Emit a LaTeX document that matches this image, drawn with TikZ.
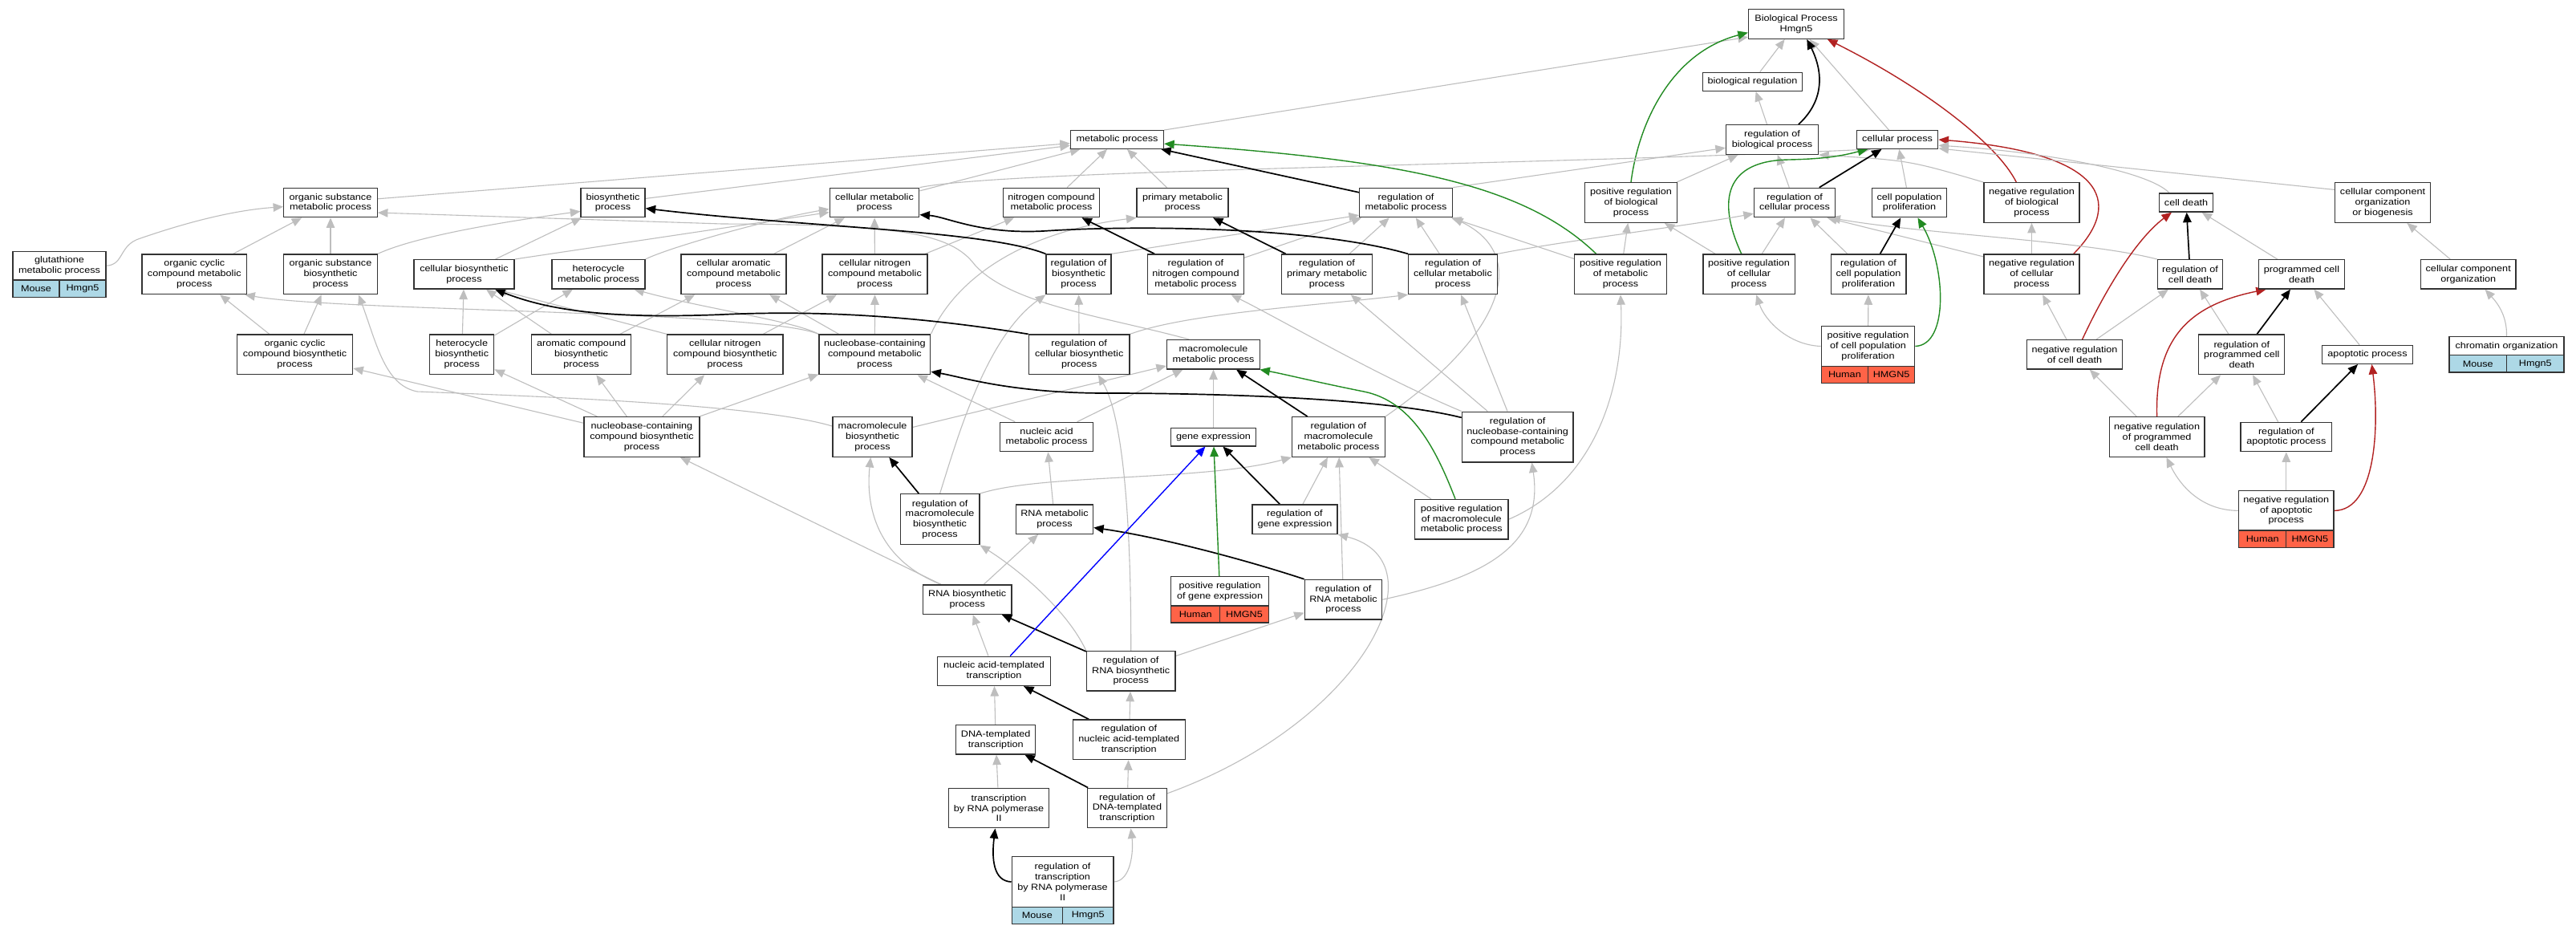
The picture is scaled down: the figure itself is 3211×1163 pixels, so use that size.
\documentclass[tikz,border=0pt]{standalone}
\usepackage{fontspec}
\setmainfont{Liberation Sans}[FakeStretch=1.15]
\usetikzlibrary{arrows.meta}
\pgfdeclarelayer{bg}
\pgfdeclarelayer{paper}
\pgfsetlayers{paper,bg,main}
\definecolor{isagray}{HTML}{BEBEBE}
\definecolor{pgreen}{HTML}{228B22}
\definecolor{nred}{HTML}{B22222}
\definecolor{pblue}{HTML}{0000FF}
\definecolor{mouseblue}{HTML}{ADD8E6}
\definecolor{humanred}{HTML}{FF6347}
\newcommand{\gofont}{\fontsize{11}{12.7}\selectfont}
\newcommand{\gon}[6]{\node[gobox,minimum width=#4pt,minimum height=#5pt] (#1) at (#2,#3) {#6};}
\newcommand{\gorow}[8]{%
 \node[gobox,fill=#6,minimum width={#4pt/2},minimum height=#5pt] (#1a) at ({#2-#4/4},{#3+#5/2}) {#7};
 \node[gobox,fill=#6,minimum width={#4pt/2},minimum height=#5pt] (#1b) at ({#2+#4/4},{#3+#5/2}) {#8};}
\tikzset{
 gobox/.style={draw=black!80,line width=1.3pt,fill=white,rectangle,inner sep=0pt,align=center,font=\gofont},
 tip/.style={-{Triangle[length=12.5pt,width=10.5pt]}},
 isa/.style={draw=isagray,line width=1.1pt,tip},
 reg/.style={draw=black,line width=1.7pt,tip},
 preg/.style={draw=pgreen,line width=1.4pt,tip},
 nreg/.style={draw=nred,line width=1.4pt,tip},
 partof/.style={draw=pblue,line width=1.4pt,tip}
}
\begin{document}
\begin{tikzpicture}[x=1pt,y=-1pt]
\begin{pgfonlayer}{paper}
\fill[white] (0,0) rectangle (3211,1163);
\end{pgfonlayer}
\useasboundingbox (0,0) rectangle (3211,1163);
% rank 0-2
\gon{Root}{2239}{30}{119}{36.6}{Biological Process\\Hmgn5}
\gon{BR}{2184.5}{101.8}{124}{23}{biological regulation}
\gon{MP}{1392.5}{174}{116}{22.6}{metabolic process}
\gon{RegBioP}{2209}{174}{115}{36.6}{regulation of\\biological process}
\gon{CP}{2365}{174}{101.6}{22.6}{cellular process}
% rank 3
\gon{OSMP}{412}{252.5}{116.5}{36.4}{organic substance\\metabolic process}
\gon{BP}{764}{252.5}{80}{36.4}{biosynthetic\\process}
\gon{CMP}{1090}{252.5}{111.5}{36.4}{cellular metabolic\\process}
\gon{NCMP}{1310.5}{252.5}{120.4}{36.4}{nitrogen compound\\metabolic process}
\gon{PMP}{1474}{252.5}{113.8}{36.4}{primary metabolic\\process}
\gon{RegMP}{1752.5}{252.5}{115.7}{36.4}{regulation of\\metabolic process}
\gon{PRBP}{2033}{252.5}{114.7}{49.6}{positive regulation\\of biological\\process}
\gon{RegCP}{2237}{252.5}{101.2}{36.4}{regulation of\\cellular process}
\gon{CPP}{2380}{252.5}{93.2}{36.4}{cell population\\proliferation}
\gon{NRBP}{2532.5}{252.5}{119}{49.6}{negative regulation\\of biological\\process}
\gon{CD}{2725}{252.5}{66.7}{23}{cell death}
\gon{CCOB}{2970}{252.5}{118.8}{49.6}{cellular component\\organization\\or biogenesis}
% rank 4
\gon{GLUT}{74}{331.2}{116}{35.7}{glutathione\\metabolic process}
\gorow{GLUT}{74}{349}{116}{21.7}{mouseblue}{Mouse}{Hmgn5}
\gon{OCCMP}{242.3}{341.8}{130.6}{49.6}{organic cyclic\\compound metabolic\\process}
\gon{OSBP}{412}{341.8}{116.5}{49.6}{organic substance\\biosynthetic\\process}
\gon{CBP}{578.5}{341.8}{125}{36.3}{cellular biosynthetic\\process}
\gon{HMP}{746}{341.8}{116}{36.3}{heterocycle\\metabolic process}
\gon{CACMP}{914.5}{341.8}{131}{49.6}{cellular aromatic\\compound metabolic\\process}
\gon{CNCMP}{1090.5}{341.8}{131}{49.6}{cellular nitrogen\\compound metabolic\\process}
\gon{RegBP}{1344.5}{341.8}{81}{49.6}{regulation of\\biosynthetic\\process}
\gon{RegNCMP}{1490.4}{341.8}{119.8}{49.6}{regulation of\\nitrogen compound\\metabolic process}
\gon{RegPMP}{1654}{341.8}{113.5}{49.6}{regulation of\\primary metabolic\\process}
\gon{RegCMP}{1811}{341.8}{110.6}{49.6}{regulation of\\cellular metabolic\\process}
\gon{PRMP}{2020}{341.8}{114.7}{49.6}{positive regulation\\of metabolic\\process}
\gon{PRCP}{2180}{341.8}{114.3}{49.6}{positive regulation\\of cellular\\process}
\gon{RegCPP}{2329}{341.8}{93.7}{49.6}{regulation of\\cell population\\proliferation}
\gon{NRCP}{2532.5}{341.8}{119}{49.6}{negative regulation\\of cellular\\process}
\gon{RegCD}{2730}{341.8}{81.2}{36.3}{regulation of\\cell death}
\gon{PCD}{2869}{341.8}{106.6}{36.3}{programmed cell\\death}
\gon{CCO}{3076.7}{341.8}{118.8}{36.3}{cellular component\\organization}
% rank 5
\gon{OCCBP}{367.6}{441.8}{144.2}{49.6}{organic cyclic\\compound biosynthetic\\process}
\gon{HBP}{575.7}{441.8}{80}{49.6}{heterocycle\\biosynthetic\\process}
\gon{ACBP}{724.6}{441.8}{124}{49.6}{aromatic compound\\biosynthetic\\process}
\gon{CNCBP}{903.8}{441.8}{144.2}{49.6}{cellular nitrogen\\compound biosynthetic\\process}
\gon{NCCMP}{1090.4}{441.8}{138.8}{49.6}{nucleobase-containing\\compound metabolic\\process}
\gon{RegCBP}{1345.2}{441.8}{125.7}{49.6}{regulation of\\cellular biosynthetic\\process}
\gon{MMP}{1512.5}{441.8}{116}{36.3}{macromolecule\\metabolic process}
\gon{PRCPP}{2328.5}{431.5}{116.4}{49.6}{positive regulation\\of cell population\\proliferation}
\gorow{PRCPP}{2328.5}{456.3}{116.4}{21.5}{humanred}{Human}{HMGN5}
\gon{NRCD}{2586}{441.8}{118.6}{36.3}{negative regulation\\of cell death}
\gon{RegPCD}{2794.3}{441.8}{107}{49.6}{regulation of\\programmed cell\\death}
\gon{AP}{2951}{441.8}{113.3}{23}{apoptotic process}
\gon{ChrO}{3124.5}{431.2}{143}{23}{chromatin organization}
\gorow{ChrO}{3124.5}{442.7}{143}{21.3}{mouseblue}{Mouse}{Hmgn5}
% rank 6
\gon{NCCBP}{800}{544.5}{144}{49.6}{nucleobase-containing\\compound biosynthetic\\process}
\gon{MBP}{1087.5}{544.5}{99}{49.6}{macromolecule\\biosynthetic\\process}
\gon{NAMP}{1304.5}{544.5}{116}{36.4}{nucleic acid\\metabolic process}
\gon{GE}{1512.5}{544.5}{105.4}{22.7}{gene expression}
\gon{RegMMP}{1668.4}{544.5}{115.8}{49.6}{regulation of\\macromolecule\\metabolic process}
\gon{RegNCCMP}{1891.7}{544.5}{138.7}{62.7}{regulation of\\nucleobase-containing\\compound metabolic\\process}
\gon{NRPCD}{2688.6}{544.5}{118.8}{49.6}{negative regulation\\of programmed\\cell death}
\gon{RegAP}{2849.8}{544.5}{113.8}{36.4}{regulation of\\apoptotic process}
% rank 7
\gon{RegMBP}{1171.6}{647.2}{98.7}{63}{regulation of\\macromolecule\\biosynthetic\\process}
\gon{RNAMP}{1314.5}{647.2}{96}{36.3}{RNA metabolic\\process}
\gon{RegGE}{1613.9}{647.2}{106}{36.3}{regulation of\\gene expression}
\gon{PRMMP}{1821.8}{647.2}{116.3}{49.6}{positive regulation\\of macromolecule\\metabolic process}
\gon{NRAP}{2849.8}{636.4}{118.4}{49.4}{negative regulation\\of apoptotic\\process}
\gorow{NRAP}{2849.8}{661.1}{118.4}{21.6}{humanred}{Human}{HMGN5}
% rank 8
\gon{PRGE}{1520.6}{736.9}{121.7}{36.3}{positive regulation\\of gene expression}
\gorow{PRGE}{1520.6}{755}{121.7}{21}{humanred}{Human}{HMGN5}
\gon{RegRNAMP}{1674.5}{747.2}{96.4}{49.6}{regulation of\\RNA metabolic\\process}
\gon{RNABP}{1205.7}{747.2}{110.6}{36.3}{RNA biosynthetic\\process}
% rank 9-12
\gon{NATT}{1239}{836.3}{140.4}{36.3}{nucleic acid-templated\\transcription}
\gon{RegRNABP}{1409.7}{836.3}{110.5}{49.6}{regulation of\\RNA biosynthetic\\process}
\gon{DTT}{1241.2}{921.8}{98.8}{36.3}{DNA-templated\\transcription}
\gon{RegNATT}{1407.3}{921.8}{140}{49.6}{regulation of\\nucleic acid-templated\\transcription}
\gon{TRP2}{1245}{1007}{125.5}{49.6}{transcription\\by RNA polymerase\\II}
\gon{RegDTT}{1405}{1007}{98.8}{49.6}{regulation of\\DNA-templated\\transcription}
\gon{RegTRP2}{1324.5}{1099}{126.7}{62.6}{regulation of\\transcription\\by RNA polymerase\\II}
\gorow{RegTRP2}{1324.5}{1130.3}{126.7}{21.4}{mouseblue}{Mouse}{Hmgn5}

\begin{pgfonlayer}{bg}
% top
\draw[isa] (BR) -- (Root);
\draw[isa] (CP) -- (Root);
\draw[isa] (MP.north east) -- (Root.-165);
\draw[reg] (RegBioP.30) .. controls (2280,120) and (2268,80) .. (Root.-55);
\draw[preg] (PRBP.north) .. controls (2043,150) and (2085,65) .. (Root.-170);
\draw[nreg] (NRBP.127) .. controls (2490,180) and (2400,110) .. (Root.-26);
\draw[isa] (RegBioP) -- (BR);
\draw[isa] (PRBP) -- (RegBioP);
\draw[isa] (NRBP.north west) .. controls (2380,200) .. (RegBioP.south east);
\draw[isa] (RegCP) -- (RegBioP);
\draw[isa] (RegMP.north east) -- (RegBioP.-170);
\draw[isa] (CMP.north east) .. controls (1250,212) and (1900,206) .. (CP.-160);
\draw[reg] (RegCP) -- (CP);
\draw[isa] (CPP) -- (CP);
\draw[preg] (PRCP.110) .. controls (2140,250) and (2150,200) .. (2230,199) .. controls (2280,198) and (2300,193) .. (CP.-162);
\draw[nreg] (NRCP.26) .. controls (2650,250) and (2620,190) .. (CP.east);
\draw[isa] (CD.150) .. controls (2680,215) and (2560,190) .. (CP.-8);
\draw[isa] (CCOB.165) -- (CP.-12);
% right block
\draw[isa] (PRCP) -- (RegCP);
\draw[isa] (PRCP) -- (PRBP);
\draw[isa] (RegCPP) -- (RegCP);
\draw[isa] (NRCP.160) -- (RegCP.-25);
\draw[isa] (RegCMP.north east) .. controls (1950,300) and (2100,282) .. (RegCP.-165);
\draw[isa] (RegCD.north west) .. controls (2600,300) and (2400,292) .. (RegCP.-23);
\draw[reg] (RegCPP) -- (CPP);
\draw[isa] (PRCPP) -- (RegCPP);
\draw[preg] (PRCPP.east) .. controls (2430,430) and (2425,330) .. (CPP.-61);
\draw[isa] (PRCPP.west) .. controls (2230,430) and (2200,400) .. (PRCP.-70);
\draw[isa] (NRCP) -- (NRBP);
\draw[isa] (NRCD) -- (NRCP);
\draw[isa] (NRCD) -- (RegCD);
\draw[nreg] (NRCD.63) .. controls (2620,370) and (2660,300) .. (CD.-146);
\draw[reg] (RegCD) -- (CD);
\draw[isa] (PCD) -- (CD);
\draw[isa] (RegPCD) -- (RegCD);
\draw[reg] (RegPCD) -- (PCD);
\draw[nreg] (NRPCD.north) .. controls (2686,420) and (2730,380) .. (PCD.-157);
\draw[isa] (NRPCD) -- (NRCD);
\draw[isa] (NRPCD) -- (RegPCD);
\draw[isa] (AP) -- (PCD);
\draw[isa] (RegAP) -- (RegPCD);
\draw[reg] (RegAP) -- (AP);
\draw[isa] (NRAP.west) .. controls (2740,636) and (2715,600) .. (NRPCD.-65);
\draw[isa] (NRAP) -- (RegAP);
\draw[nreg] (NRAP.east) .. controls (2962,636) and (2966,530) .. (AP.-66);
\draw[isa] (CCO) -- (CCOB);
\draw[isa] (ChrO.north) .. controls (3125,395) and (3115,380) .. (CCO.-42);
% metabolic
\draw[isa] (OSMP) -- (MP);
\draw[isa] (BP) -- (MP);
\draw[isa] (CMP) -- (MP);
\draw[isa] (NCMP) -- (MP);
\draw[isa] (PMP) -- (MP);
\draw[reg] (RegMP) -- (MP);
\draw[preg] (PRMP.140) .. controls (1900,230) and (1750,200) .. (MP.-5);
\draw[isa] (MMP.148) .. controls (1380,395) and (1260,380) .. (1215,330) .. controls (1185,290) and (1120,280) .. (900,279) -- (OSMP.-12);
\draw[isa] (GLUT.east) .. controls (155,330) and (148,305) .. (175,297) .. controls (230,278) and (290,262) .. (OSMP.-175);
\draw[isa] (OCCMP) -- (OSMP);
\draw[isa] (OSBP) -- (OSMP);
\draw[isa] (OSBP.north east) .. controls (510,298) and (600,280) .. (BP.-165);
\draw[isa] (CBP) -- (BP);
\draw[isa] (CBP.north east) -- (CMP.-168);
\draw[isa] (HMP.north east) .. controls (830,310) and (950,275) .. (CMP.-172);
\draw[isa] (CACMP) -- (CMP);
\draw[isa] (CNCMP) -- (CMP);
\draw[isa] (CNCMP) -- (NCMP);
\draw[isa] (HBP) -- (CBP);
\draw[isa] (HBP) -- (HMP);
\draw[isa] (ACBP) -- (CBP);
\draw[isa] (ACBP) -- (CACMP);
\draw[isa] (CNCBP.north west) -- (CBP.-25);
\draw[isa] (CNCBP) -- (CNCMP);
\draw[isa] (OCCBP) -- (OCCMP);
\draw[isa] (OCCBP) -- (OSBP);
\draw[isa] (NCCMP.north west) .. controls (950,387) and (420,388) .. (OCCMP.-22);
\draw[isa] (NCCMP.north west) .. controls (990,400) and (880,385) .. (HMP.-23);
\draw[isa] (NCCMP) -- (CACMP);
\draw[isa] (NCCMP) -- (CNCMP);
\draw[isa] (NCCMP.north east) .. controls (1190,350) and (1270,290) .. (PMP.south west);
\draw[isa] (NAMP) -- (NCCMP);
\draw[isa] (NAMP) -- (MMP);
\draw[isa] (MBP) -- (MMP);
\draw[isa] (MBP.165) .. controls (950,505) and (700,495) .. (520,488) .. controls (480,480) and (470,430) .. (OSBP.-36);
\draw[isa] (NCCBP) -- (OCCBP);
\draw[isa] (NCCBP) -- (HBP);
\draw[isa] (NCCBP) -- (ACBP);
\draw[isa] (NCCBP) -- (CNCBP);
\draw[isa] (NCCBP) -- (NCCMP);
\draw[isa] (RNABP.150) -- (NCCBP.-28);
\draw[isa] (RNABP.150) .. controls (1100,700) and (1078,640) .. (MBP.-95);
\draw[isa] (RNABP) -- (RNAMP);
\draw[isa] (RNAMP) -- (NAMP);
\draw[isa] (GE) -- (MMP);
\draw[isa] (RegBP.north east) -- (RegMP.-165);
\draw[isa] (RegNCMP) -- (RegMP);
\draw[isa] (RegPMP) -- (RegMP);
\draw[isa] (RegCMP) -- (RegMP);
\draw[isa] (RegMMP.north east) .. controls (1870,420) and (1910,320) .. (RegMP.south east);
\draw[isa] (PRMP) -- (RegMP);
\draw[isa] (RegCBP) -- (RegBP);
\draw[isa] (RegCBP.north east) .. controls (1480,390) and (1650,380) .. (RegCMP.south west);
\draw[isa] (RegMBP.north) .. controls (1195,540) and (1230,420) .. (RegBP.south west);
\draw[isa] (RegMBP.north east) .. controls (1300,590) and (1500,600) .. (RegMMP.south west);
\draw[isa] (RegGE) -- (RegMMP);
\draw[isa] (PRMMP) -- (RegMMP);
\draw[isa] (PRMMP.east) .. controls (1990,600) and (2025,480) .. (PRMP.south);
\draw[isa] (PRMP) -- (PRBP);
\draw[isa] (RegNCCMP.north west) .. controls (1720,470) and (1600,400) .. (RegNCMP.-30);
\draw[isa] (RegNCCMP) -- (RegPMP);
\draw[isa] (RegNCCMP) -- (RegCMP);
\draw[isa] (RegRNAMP.east) .. controls (1850,720) and (1925,680) .. (RegNCCMP.-61);
\draw[isa] (RegRNAMP) -- (RegMMP);
\draw[isa] (RegRNABP) -- (RegRNAMP);
\draw[isa] (RegRNABP.north west) .. controls (1330,760) and (1270,710) .. (RegMBP.south east);
\draw[isa] (RegRNABP.north) .. controls (1410,650) and (1400,520) .. (RegCBP.-47);
\draw[isa] (RegNATT) -- (RegRNABP);
\draw[isa] (RegDTT) -- (RegNATT);
\draw[isa] (RegDTT.20) .. controls (1700,900) and (1800,700) .. (RegGE.south east);
\draw[isa] (DTT) -- (NATT);
\draw[isa] (NATT) -- (RNABP);
\draw[isa] (TRP2) -- (DTT);
\draw[isa] (RegTRP2.east) .. controls (1410,1098) and (1413,1060) .. (RegDTT.-80);
% regulates
\draw[reg] (RegNCMP) -- (NCMP);
\draw[reg] (RegPMP) -- (PMP);
\draw[reg] (RegBP.north west) .. controls (1230,287) and (1000,283) .. (BP.-10);
\draw[reg] (RegCMP.north west) .. controls (1640,283) and (1420,280) .. (1300,288) .. controls (1220,292) and (1180,270) .. (CMP.-15);
\draw[reg] (RegCBP.north west) .. controls (1180,400) and (1050,385) .. (900,392) .. controls (750,398) and (680,385) .. (CBP.-26);
\draw[reg] (RegNCCMP.161) .. controls (1720,495) and (1500,490) .. (1380,490) .. controls (1260,490) and (1200,470) .. (NCCMP.-17);
\draw[reg] (RegMMP) -- (MMP);
\draw[reg] (RegGE) -- (GE);
\draw[reg] (RegMBP) -- (MBP);
\draw[reg] (RegRNAMP.north west) .. controls (1560,700) and (1450,670) .. (RNAMP.-12);
\draw[reg] (RegRNABP) -- (RNABP);
\draw[reg] (RegNATT) -- (NATT);
\draw[reg] (RegDTT) -- (DTT);
\draw[reg] (RegTRP2.west) .. controls (1238,1098) and (1236,1070) .. (TRP2.-100);
% positive / part of
\draw[preg] (PRMMP.107) .. controls (1790,560) and (1760,500) .. (1700,488) .. controls (1640,476) and (1600,466) .. (MMP.-18);
\draw[preg] (PRGE) -- (GE);
\draw[partof] (NATT.43) -- (GE.-130);
\end{pgfonlayer}
\end{tikzpicture}
\end{document}
